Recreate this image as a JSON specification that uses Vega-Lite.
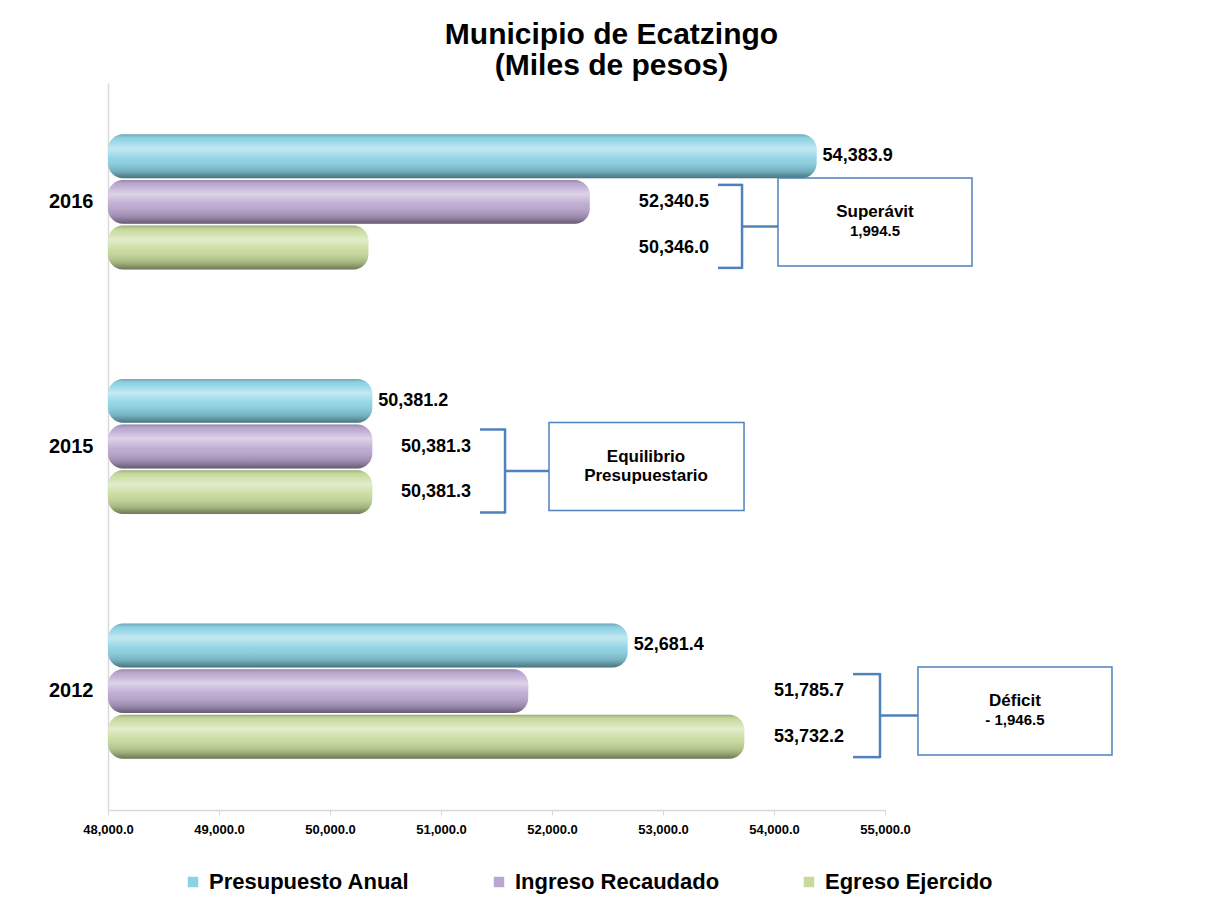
{
  "$schema": "https://vega.github.io/schema/vega-lite/v6.json",
  "width": 777,
  "height": 727,
  "padding": {"left": 48, "top": 20, "right": 5, "bottom": 5},
  "background": "white",
  "title": {
    "text": ["Municipio de Ecatzingo", "(Miles de pesos)"],
    "fontSize": 30,
    "fontWeight": "bold",
    "font": "Liberation Sans",
    "color": "black",
    "anchor": "middle",
    "lineHeight": 31,
    "dx": 115,
    "offset": 2
  },
  "datasets": {
    "bars": [
      {"year": "2016", "series": "Presupuesto Anual", "value": 54383.9},
      {"year": "2016", "series": "Ingreso Recaudado", "value": 52340.5},
      {"year": "2016", "series": "Egreso Ejercido", "value": 50346.0},
      {"year": "2015", "series": "Presupuesto Anual", "value": 50381.2},
      {"year": "2015", "series": "Ingreso Recaudado", "value": 50381.3},
      {"year": "2015", "series": "Egreso Ejercido", "value": 50381.3},
      {"year": "2012", "series": "Presupuesto Anual", "value": 52681.4},
      {"year": "2012", "series": "Ingreso Recaudado", "value": 51785.7},
      {"year": "2012", "series": "Egreso Ejercido", "value": 53732.2}
    ],
    "notes": [
      {"year": "2016", "note": "Superávit", "detail": "1,994.5", "bx0": 53495, "bx": 53712, "box0": 54036, "box1": 55784},
      {"year": "2015", "note": "Equilibrio\nPresupuestario", "detail": "", "bx0": 51351, "bx": 51577, "box0": 51973, "box1": 53730},
      {"year": "2012", "note": "Déficit", "detail": "- 1,946.5", "bx0": 54712, "bx": 54955, "box0": 55297, "box1": 57045}
    ]
  },
  "encoding": {
    "y": {
      "field": "year",
      "type": "ordinal",
      "sort": ["2016", "2015", "2012"],
      "scale": {"paddingInner": 0.448, "paddingOuter": 0.21},
      "axis": {
        "title": null,
        "ticks": false,
        "labelFont": "Liberation Sans",
        "labelFontSize": 20,
        "labelFontWeight": "bold",
        "labelColor": "black",
        "labelPadding": 15,
        "domainColor": "#d9d9d9",
        "domainWidth": 1.5
      }
    }
  },
  "layer": [
    {
      "data": {"name": "bars"},
      "mark": {"type": "bar", "cornerRadius": 15},
      "encoding": {
        "x": {
          "field": "value",
          "type": "quantitative",
          "scale": {"domain": [48000, 55000], "zero": false, "nice": false},
          "axis": {
            "title": null,
            "format": ",.1f",
            "values": [48000, 49000, 50000, 51000, 52000, 53000, 54000, 55000],
            "grid": false,
            "labelFlush": false,
            "labelFont": "Liberation Sans",
            "labelFontSize": 13,
            "labelFontWeight": "bold",
            "labelColor": "black",
            "labelPadding": 8,
            "domainColor": "#d9d9d9",
            "domainWidth": 1.5,
            "tickColor": "#d9d9d9",
            "tickSize": 5
          }
        },
        "x2": {"datum": 48000},
        "yOffset": {
          "field": "series",
          "type": "nominal",
          "sort": ["Presupuesto Anual", "Ingreso Recaudado", "Egreso Ejercido"],
          "scale": {"paddingInner": 0.04}
        },
        "color": {
          "field": "series",
          "type": "nominal",
          "sort": ["Presupuesto Anual", "Ingreso Recaudado", "Egreso Ejercido"],
          "scale": {
            "domain": ["Presupuesto Anual", "Ingreso Recaudado", "Egreso Ejercido"],
            "range": ["#8ad2e4", "#bba6d0", "#c6da9a"]
          },
          "legend": {
            "title": null,
            "orient": "none",
            "direction": "horizontal",
            "legendX": 74,
            "legendY": 788,
            "symbolType": "square",
            "symbolSize": 110,
            "symbolStrokeWidth": 0,
            "labelFont": "Liberation Sans",
            "labelFontSize": 22,
            "labelFontWeight": "bold",
            "labelColor": "black",
            "labelLimit": 400,
            "columnPadding": 78,
            "labelOffset": 5
          }
        }
      }
    },
    {
      "data": {"name": "bars"},
      "mark": {
        "type": "bar",
        "cornerRadius": 15,
        "fill": {
          "gradient": "linear",
          "x1": 0, "y1": 0, "x2": 0, "y2": 1,
          "stops": [
            {"offset": 0, "color": "rgba(0,0,0,0.22)"},
            {"offset": 0.12, "color": "rgba(255,255,255,0.05)"},
            {"offset": 0.32, "color": "rgba(255,255,255,0.5)"},
            {"offset": 0.55, "color": "rgba(255,255,255,0.08)"},
            {"offset": 0.85, "color": "rgba(0,0,0,0.18)"},
            {"offset": 1, "color": "rgba(0,0,0,0.45)"}
          ]
        }
      },
      "encoding": {
        "x": {"field": "value", "type": "quantitative"},
        "x2": {"datum": 48000},
        "yOffset": {
          "field": "series",
          "type": "nominal",
          "sort": ["Presupuesto Anual", "Ingreso Recaudado", "Egreso Ejercido"]
        }
      }
    },
    {
      "data": {"name": "bars"},
      "transform": [{"filter": "datum.series === 'Presupuesto Anual'"}],
      "mark": {
        "type": "text",
        "align": "left",
        "baseline": "middle",
        "dx": 6,
        "font": "Liberation Sans",
        "fontSize": 18,
        "fontWeight": "bold",
        "color": "black"
      },
      "encoding": {
        "x": {"field": "value", "type": "quantitative"},
        "yOffset": {
          "field": "series",
          "type": "nominal",
          "sort": ["Presupuesto Anual", "Ingreso Recaudado", "Egreso Ejercido"]
        },
        "text": {"field": "value", "type": "quantitative", "format": ",.1f"}
      }
    },
    {
      "data": {"name": "bars"},
      "transform": [
        {"filter": "datum.series !== 'Presupuesto Anual'"},
        {"lookup": "year", "from": {"data": {"name": "notes"}, "key": "year", "fields": ["bx0"]}}
      ],
      "mark": {
        "type": "text",
        "align": "right",
        "baseline": "middle",
        "dx": -9,
        "font": "Liberation Sans",
        "fontSize": 18,
        "fontWeight": "bold",
        "color": "black"
      },
      "encoding": {
        "x": {"field": "bx0", "type": "quantitative"},
        "yOffset": {
          "field": "series",
          "type": "nominal",
          "sort": ["Presupuesto Anual", "Ingreso Recaudado", "Egreso Ejercido"]
        },
        "text": {"field": "value", "type": "quantitative", "format": ",.1f"}
      }
    },
    {
      "data": {"name": "notes"},
      "mark": {"type": "rule", "color": "#4f81bd", "strokeWidth": 2.5, "yOffset": -17},
      "encoding": {
        "x": {"field": "bx0", "type": "quantitative"},
        "x2": {"field": "bx"}
      }
    },
    {
      "data": {"name": "notes"},
      "mark": {"type": "rule", "color": "#4f81bd", "strokeWidth": 2.5, "yOffset": 66},
      "encoding": {
        "x": {"field": "bx0", "type": "quantitative"},
        "x2": {"field": "bx"}
      }
    },
    {
      "data": {"name": "notes"},
      "mark": {"type": "rule", "color": "#4f81bd", "strokeWidth": 2.5, "yOffset": 24.5},
      "encoding": {
        "x": {"field": "bx", "type": "quantitative"},
        "x2": {"field": "box0"}
      }
    },
    {
      "data": {"name": "notes"},
      "mark": {"type": "tick", "orient": "vertical", "color": "#4f81bd", "opacity": 1, "size": 85, "thickness": 2.5, "yOffset": 24.5},
      "encoding": {
        "x": {"field": "bx", "type": "quantitative"}
      }
    },
    {
      "data": {"name": "notes"},
      "mark": {"type": "bar", "fill": "white", "stroke": "#4f81bd", "strokeWidth": 1.5, "height": 88, "yOffset": 20},
      "encoding": {
        "x": {"field": "box0", "type": "quantitative"},
        "x2": {"field": "box1"}
      }
    },
    {
      "data": {"name": "notes"},
      "mark": {
        "type": "text",
        "align": "center",
        "baseline": "top",
        "lineBreak": "\n",
        "lineHeight": 19,
        "dx": 97,
        "dy": 2,
        "font": "Liberation Sans",
        "fontSize": 17,
        "fontWeight": "bold",
        "color": "black"
      },
      "encoding": {
        "x": {"field": "box0", "type": "quantitative"},
        "text": {"field": "note", "type": "nominal"}
      }
    },
    {
      "data": {"name": "notes"},
      "mark": {
        "type": "text",
        "align": "center",
        "baseline": "top",
        "dx": 97,
        "dy": 22,
        "font": "Liberation Sans",
        "fontSize": 15,
        "fontWeight": "bold",
        "color": "black"
      },
      "encoding": {
        "x": {"field": "box0", "type": "quantitative"},
        "text": {"field": "detail", "type": "nominal"}
      }
    }
  ],
  "config": {
    "view": {"stroke": null},
    "font": "Liberation Sans"
  }
}
